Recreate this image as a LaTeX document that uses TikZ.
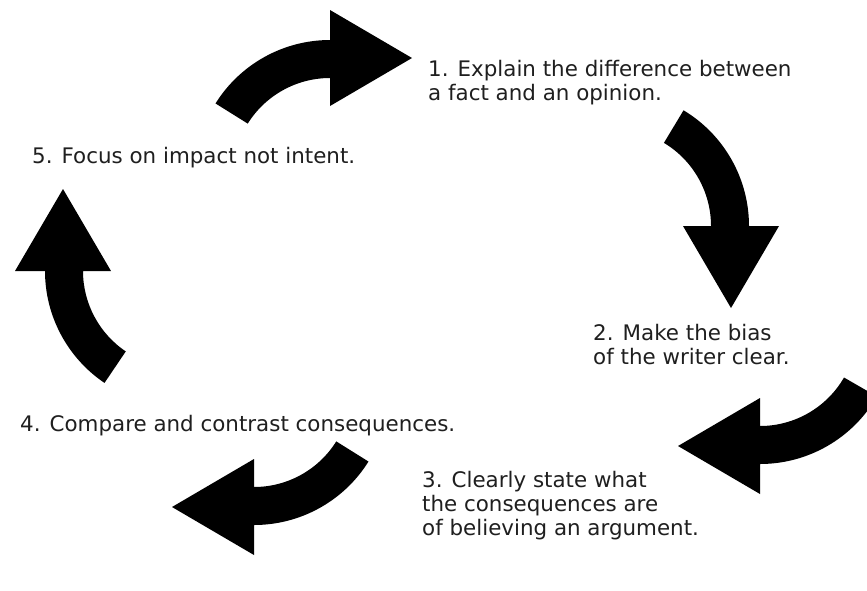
\documentclass[tikz,border=0pt]{standalone}
\usepackage{fontspec}
\setmainfont{DejaVu Sans}
\usetikzlibrary{calc}
\tikzset{
  arrowfill/.style={fill=black},
  steptext/.style={anchor=base west, inner sep=0pt, align=left,
    font=\fontsize{21.4}{24}\selectfont, text=black!88}
}
\def\arRi{97}
\def\arRo{135}
\def\arHi{69}
\def\arHo{165}
\def\arRt{117}
\def\arL{82}
\newcommand{\cyclearrow}[3]{%
  \fill[arrowfill] ($(#1)+(#2:\arRo)$) arc[start angle=#2, end angle=#3, radius=\arRo]
    -- ($(#1)+(#3:\arHo)$) -- ($(#1)+(#3:\arRt)+(#3+90:\arL)$) -- ($(#1)+(#3:\arHi)$)
    -- ($(#1)+(#3:\arRi)$) arc[start angle=#3, end angle=#2, radius=\arRi] -- cycle;}
\begin{document}
\begin{tikzpicture}[x=1pt,y=-1pt]
\useasboundingbox (0,0) rectangle (867,590);
\clip (0,0) rectangle (867,590);
\fill[white] (0,0) rectangle (867,590);
% arc centres
\coordinate (c1) at (330,175);
\coordinate (c2) at (614,226);
\coordinate (c3) at (760,329);
\coordinate (c4) at (254,390);
\coordinate (c5) at (180,271);
\cyclearrow{c1}{212}{270}
\cyclearrow{c2}{-59}{0}
\cyclearrow{c3}{30}{90}
\cyclearrow{c4}{32}{90}
\cyclearrow{c5}{124}{180}
% texts (base anchor = baseline of the last line)
\node[steptext] (t1) at (428,100.7) {1. Explain the difference between\\a fact and an opinion.};
\node[steptext] (t2) at (593,364) {2. Make the bias\\of the writer clear.};
\node[steptext] (t3) at (422,535) {3. Clearly state what\\the consequences are\\of believing an argument.};
\node[steptext] (t4) at (20,431) {4. Compare and contrast consequences.};
\node[steptext] (t5) at (32,163) {5. Focus on impact not intent.};
\end{tikzpicture}
\end{document}
